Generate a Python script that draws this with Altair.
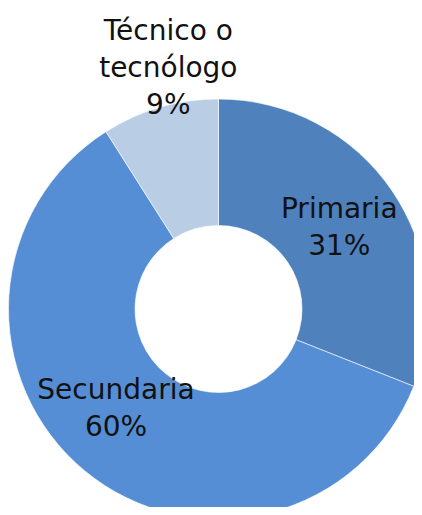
import altair as alt
import pandas as pd

categories = ["Primaria", "Secundaria", "Técnico o tecnólogo"]
labels = ["Primaria\n31%", "Secundaria\n60%", "Técnico o\ntecnólogo\n9%"]
values = [31, 60, 9]
order = [0, 1, 2]
colors = ["#4F81BD", "#558ED5", "#B9CDE5"]

df = pd.DataFrame({"cat": categories, "label": labels, "value": values, "order": order})

CX, CY = 210.5, 301
FONT = "DejaVu Sans"

arc = alt.Chart(df).mark_arc(
    innerRadius=83.5, outerRadius=210, stroke="white", strokeWidth=0.6
).encode(
    x=alt.value(CX),
    y=alt.value(CY),
    theta=alt.Theta("value:Q", stack=True),
    order=alt.Order("order:Q"),
    color=alt.Color("cat:N", scale=alt.Scale(domain=categories, range=colors), legend=None),
)

text_base = (
    alt.Chart(df)
    .transform_joinaggregate(total="sum(value)")
    .transform_window(cum="sum(value)", sort=[alt.SortField("order")])
    .transform_calculate(mid="2*PI*(datum.cum - datum.value/2)/datum.total")
)


def label(cat, r, dx, dy):
    return text_base.transform_filter(alt.datum.cat == cat).mark_text(
        radius=r, dx=dx, dy=dy, font=FONT, fontSize=28, lineBreak="\n",
        lineHeight=37, align="center", baseline="middle", color="#111111",
    ).encode(
        x=alt.value(CX),
        y=alt.value(CY),
        theta=alt.Theta("mid:Q", scale=None),
        text="label:N",
    )


chart = alt.layer(
    arc,
    label("Primaria", 146, 0, -17),
    label("Secundaria", 142, -12, -27),
    label("Técnico o tecnólogo", 248, 19, -39),
).properties(
    width=406, height=499, padding=0, autosize=alt.AutoSizeParams(type="none")
).configure_view(stroke=None)

chart.save("out.html", embed_options={"renderer": "svg", "actions": False})
